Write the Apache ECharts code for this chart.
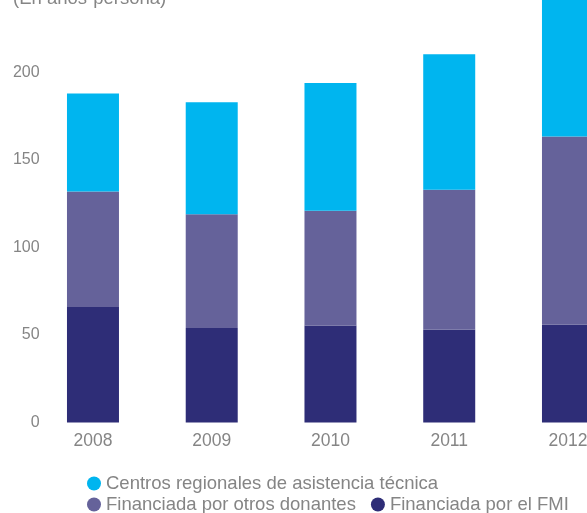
<!DOCTYPE html>
<html>
<head>
<meta charset="utf-8">
<script src="https://cdn.jsdelivr.net/npm/echarts@6/dist/echarts.min.js"></script>
<style>
  html, body { margin: 0; padding: 0; width: 587px; height: 513px; overflow: hidden; background: #fff; }
  #chart { position: absolute; left: 0; top: -150px; width: 700px; height: 663px; }
</style>
</head>
<body>
<div id="chart"></div>
<script>
const years = ['2008', '2009', '2010', '2011', '2012'];
const fmi = [66, 54, 55.5, 53, 56];
const otrosDonantes = [66, 65, 65.5, 80, 107.5];
const centros = [56, 64, 73, 77.5, 92];
const yTicks = [0, 50, 100, 150, 200, 250, 300];

const NAMES = {
  centros: 'Centros regionales de asistencia técnica',
  otros: 'Financiada por otros donantes',
  fmi: 'Financiada por el FMI'
};
const COLORS = { centros: '#00b5ef', otros: '#65629a', fmi: '#2e2d77' };
const GRAY = '#858585';
const FONT = '"Liberation Sans", Arial, sans-serif';

const chart = echarts.init(document.getElementById('chart'), null, { renderer: 'canvas' });

const bar = (name, data, color) => ({
  name, type: 'bar', stack: 'total', barWidth: 52, data,
  itemStyle: { color }, emphasis: { disabled: true }
});

const legendBase = {
  orient: 'horizontal', icon: 'circle', itemWidth: 14, itemHeight: 14, itemGap: 15,
  padding: 0, textStyle: { color: GRAY, fontSize: 18.5, fontFamily: FONT }
};

chart.setOption({
  animation: false,
  backgroundColor: '#fff',
  textStyle: { fontFamily: FONT },
  graphic: [{
    type: 'text', left: 13, top: 139,
    style: { text: '(En años-persona)', fill: GRAY, font: '18.5px ' + FONT }
  }],
  legend: [
    Object.assign({ data: [NAMES.centros], left: 87, top: 624 }, legendBase),
    Object.assign({ data: [NAMES.otros, NAMES.fmi], left: 87, top: 645 }, legendBase)
  ],
  grid: { left: 33.6, width: 593.75, top: 47.5, bottom: 90.5, containLabel: false },
  xAxis: {
    type: 'category', data: years,
    axisLine: { show: false }, axisTick: { show: false },
    axisLabel: { color: GRAY, fontSize: 17.5, margin: 10, fontFamily: FONT }
  },
  yAxis: {
    type: 'value', min: yTicks[0], max: yTicks[yTicks.length - 1], interval: 50,
    splitLine: { show: false }, axisLine: { show: false }, axisTick: { show: false },
    axisLabel: { color: GRAY, fontSize: 16, margin: -6, fontFamily: FONT }
  },
  series: [
    bar(NAMES.fmi, fmi, COLORS.fmi),
    bar(NAMES.otros, otrosDonantes, COLORS.otros),
    bar(NAMES.centros, centros, COLORS.centros)
  ]
});
</script>
</body>
</html>
